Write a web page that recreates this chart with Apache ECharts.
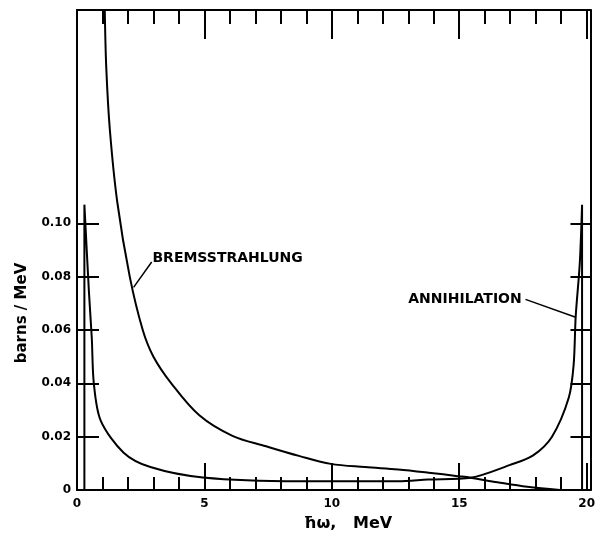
<!DOCTYPE html>
<html>
<head>
<meta charset="utf-8">
<script src="https://cdn.jsdelivr.net/npm/echarts@6/dist/echarts.min.js"></script>
<style>
  html, body { margin: 0; padding: 0; background: #fff; }
  #chart { width: 598px; height: 545px; }
</style>
</head>
<body>
<div id="chart"></div>
<script>
// photon energy (MeV) and cross section (barns/MeV)
const bremX = [1.09, 1.15, 1.29, 1.58, 2.07, 2.58, 3.0, 3.7, 4.8, 6.1, 7.42, 8.71, 9.96, 11.3, 12.6, 13.8, 14.94, 15.45, 16.5, 17.67, 18.95];
const bremY = [0.180, 0.158, 0.135, 0.108, 0.080, 0.060, 0.050, 0.040, 0.028, 0.0203, 0.0164, 0.0128, 0.0098, 0.0086, 0.0077, 0.0065, 0.0052, 0.0046, 0.0029, 0.0012, 0.0];

const annX = [0.29, 0.29, 0.47, 0.58, 0.66, 0.93, 1.83, 2.88, 4.94, 8.72, 12.6, 13.77, 15.45, 17.0, 17.9, 18.64, 19.3, 19.49, 19.57, 19.73, 19.82, 19.82];
const annY = [0, 0.107, 0.074, 0.057, 0.040, 0.026, 0.014, 0.0086, 0.0047, 0.0033, 0.0033, 0.0039, 0.0046, 0.0094, 0.0130, 0.020, 0.0347, 0.047, 0.065, 0.085, 0.107, 0];

const yTicks = [0, 0.02, 0.04, 0.06, 0.08, 0.10];
const yTickMarks = [0.02, 0.04, 0.06, 0.08, 0.10];

// curve labels: text position and leader line end (data coords)
const bremLabel = { text: 'BREMSSTRAHLUNG', at: [2.96, 0.0868], from: [2.93, 0.0855], to: [2.22, 0.076] };
const annLabel = { text: 'ANNIHILATION', at: [13.0, 0.0715], from: [17.6, 0.0715], to: [19.57, 0.0648] };

const ink = '#000';
const labelFont = { color: ink, fontFamily: 'DejaVu Sans', fontWeight: 'bold' };

function pairs(xs, ys) {
  return xs.map((x, i) => [x, ys[i]]);
}

function curveLabel(lbl) {
  return {
    markLine: {
      silent: true,
      symbol: ['none', 'none'],
      lineStyle: { color: ink, width: 1.5, type: 'solid' },
      label: { show: false },
      data: [[{ coord: lbl.from }, { coord: lbl.to }]],
    },
    markPoint: {
      silent: true,
      symbol: 'circle',
      symbolSize: 0,
      label: {
        show: true,
        position: 'right',
        distance: 0,
        formatter: lbl.text,
        fontSize: 14,
        ...labelFont,
      },
      data: [{ coord: lbl.at }],
    },
  };
}

const chart = echarts.init(document.getElementById('chart'));

const xCommon = {
  type: 'value',
  min: 0,
  max: 20.15,
  interval: 5,
  splitLine: { show: false },
  axisLine: { show: true, onZero: false, lineStyle: { color: ink, width: 2 } },
};

const yCommon = {
  type: 'value',
  min: 0,
  max: 0.18,
  interval: 0.02,
  splitLine: { show: false },
  axisLine: { show: true, onZero: false, lineStyle: { color: ink, width: 2 } },
};

chart.setOption({
  animation: false,
  backgroundColor: '#fff',
  grid: { left: 77, right: 5, top: 10, bottom: 55, containLabel: false },
  xAxis: [
    {
      ...xCommon,
      position: 'bottom',
      axisTick: { show: true, inside: true, length: 27, lineStyle: { color: ink, width: 2 } },
      minorTick: { show: true, splitNumber: 5, length: 13, lineStyle: { color: ink, width: 2 } },
      axisLabel: {
        show: true,
        margin: 8,
        fontSize: 12,
        ...labelFont,
        showMaxLabel: false,
        formatter: (v) => (v % 5 === 0 && v <= 20 ? String(v) : ''),
      },
    },
    {
      ...xCommon,
      position: 'top',
      axisTick: { show: true, inside: true, length: 29, lineStyle: { color: ink, width: 2 } },
      minorTick: { show: true, splitNumber: 5, length: 14, lineStyle: { color: ink, width: 2 } },
      axisLabel: { show: false },
    },
  ],
  yAxis: [
    {
      ...yCommon,
      position: 'left',
      axisTick: { show: true, inside: true, length: 22, customValues: yTickMarks, lineStyle: { color: ink, width: 2 } },
      axisLabel: {
        show: true,
        margin: 6,
        fontSize: 12,
        ...labelFont,
        customValues: yTicks,
        formatter: (v) => (v === 0 ? '0' : v.toFixed(2)),
      },
    },
    {
      ...yCommon,
      position: 'right',
      axisTick: { show: true, inside: true, length: 20, customValues: yTickMarks, lineStyle: { color: ink, width: 2 } },
      axisLabel: { show: false },
    },
  ],
  graphic: [
    {
      type: 'text',
      x: 22,
      y: 313,
      rotation: Math.PI / 2,
      style: {
        text: 'barns / MeV',
        fill: ink,
        font: 'bold 15px "DejaVu Sans"',
        align: 'center',
        verticalAlign: 'middle',
      },
    },
    {
      type: 'text',
      x: 348,
      y: 524,
      style: {
        text: 'ħω,   MeV',
        fill: ink,
        font: 'bold 16px "DejaVu Sans"',
        align: 'center',
        verticalAlign: 'middle',
      },
    },
  ],
  series: [
    {
      name: 'Bremsstrahlung',
      type: 'line',
      data: pairs(bremX, bremY),
      symbol: 'none',
      smooth: 0.35,
      clip: true,
      lineStyle: { color: ink, width: 2 },
      ...curveLabel(bremLabel),
    },
    {
      name: 'Annihilation',
      type: 'line',
      data: pairs(annX, annY),
      symbol: 'none',
      smooth: 0.3,
      clip: true,
      lineStyle: { color: ink, width: 2 },
      ...curveLabel(annLabel),
    },
  ],
});
</script>
</body>
</html>
